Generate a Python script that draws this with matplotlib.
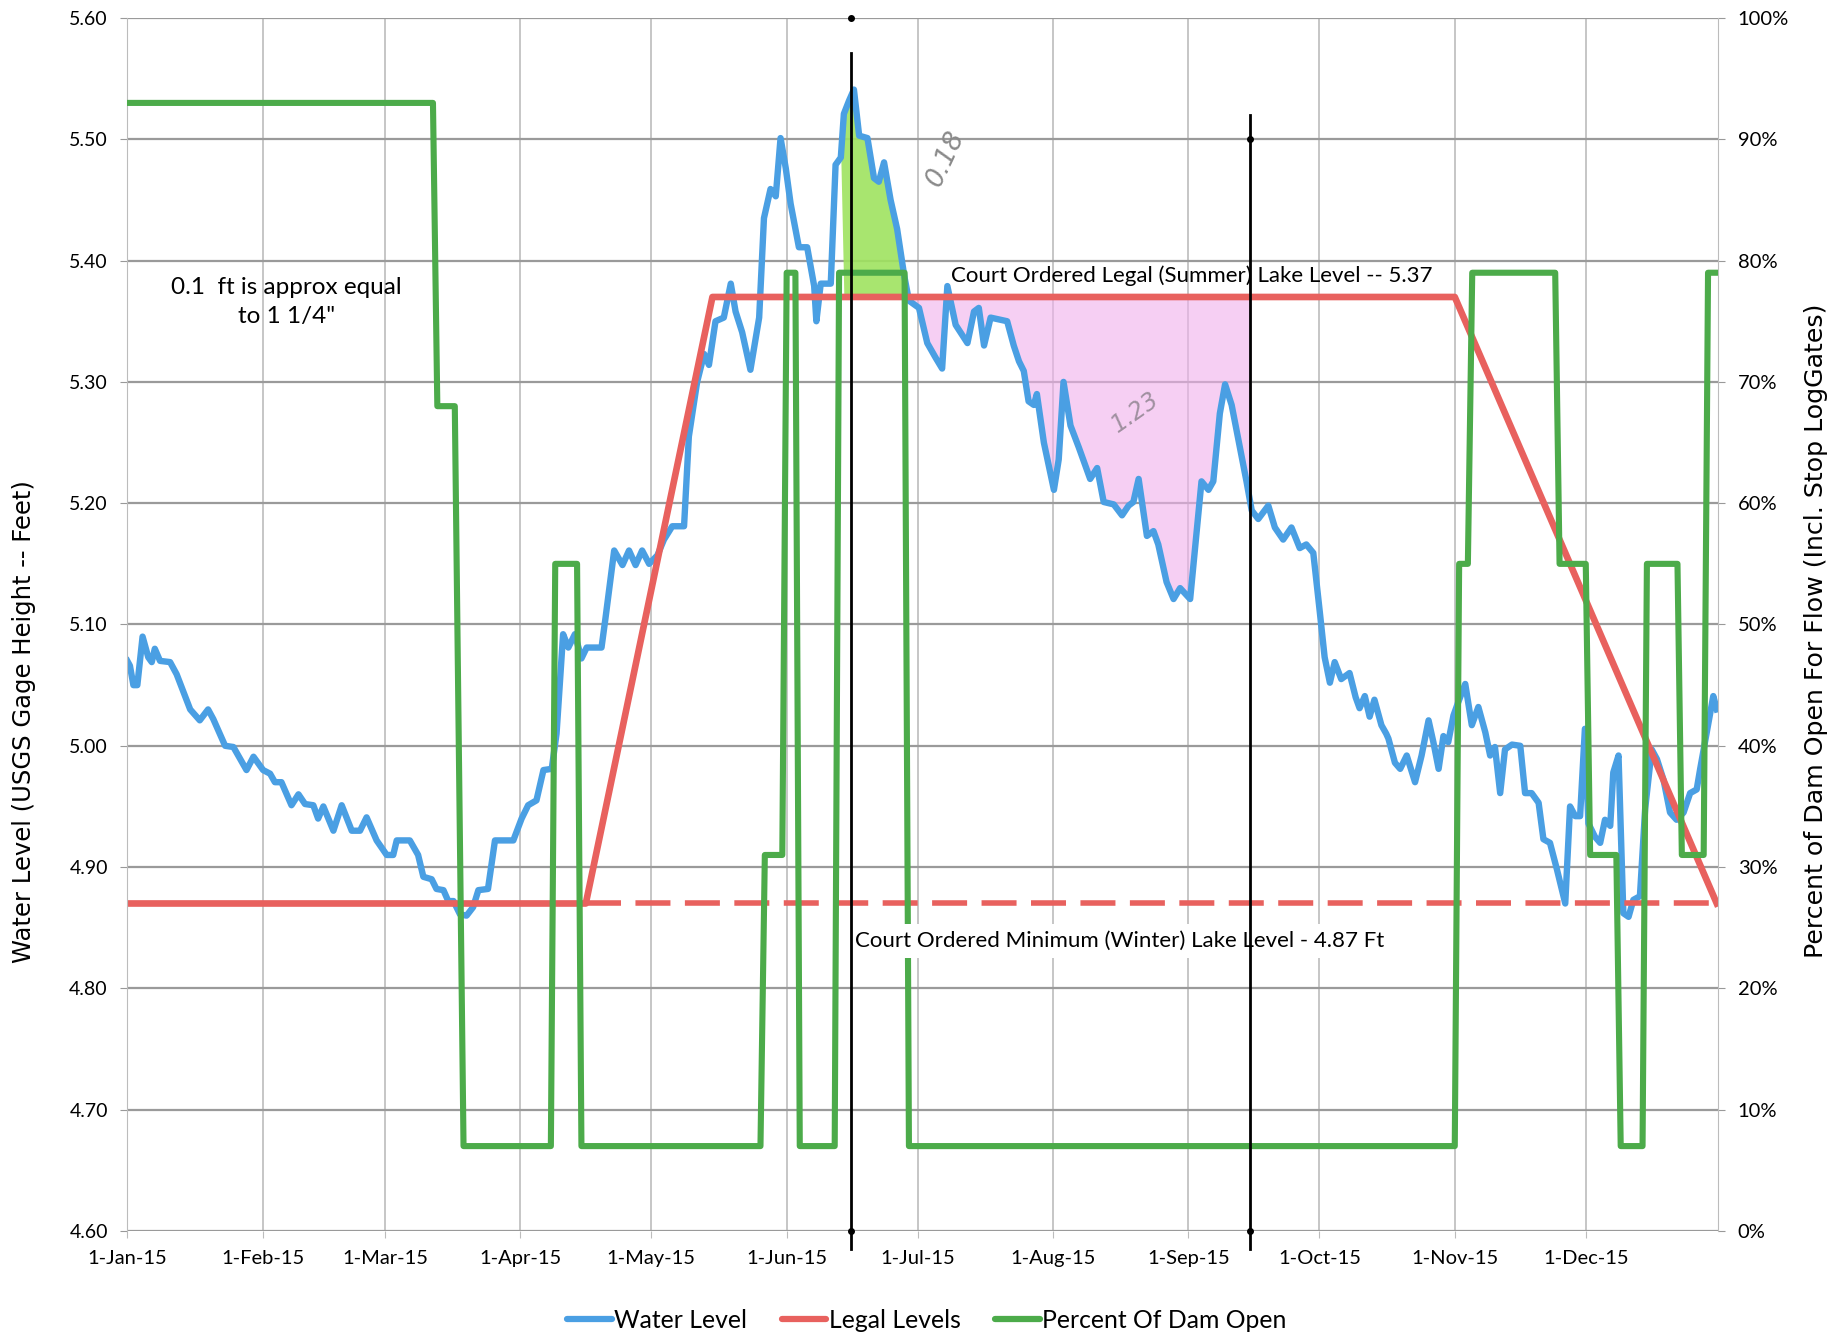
import numpy as np
import matplotlib
matplotlib.use("Agg")
import matplotlib.pyplot as plt
import matplotlib.dates as mdates
from matplotlib.ticker import MultipleLocator, FormatStrFormatter, PercentFormatter
from matplotlib.lines import Line2D
from matplotlib import font_manager as fm

# ---------------- data (days after 1-Jan-2015) ----------------
wl_days = [0, 0.6, 1.4, 2.3, 3.5, 4.8, 5.6, 6.3, 7.5, 9.8, 11.3, 14.4, 16.6, 18.5, 19.7,
           22.4, 24.3, 27.3, 28.9, 31.1, 32.7, 33.8, 35.3, 37.6, 39.2, 40.7, 42.6, 43.7,
           44.9, 47.2, 49.1, 51.4, 53.3, 54.8, 57.1, 59.4, 60.9, 61.7, 64.7, 66.6, 67.8,
           69.7, 70.8, 72.4, 73.5, 74.7, 76.2, 77.7, 79.2, 80.4, 82.6, 84.2, 88.4, 90.3,
           91.8, 93.7, 95.3, 97.2, 98.3, 99.8, 101, 102.5, 104, 105.2, 108.6, 109.5,
           111.5, 113.4, 114.9, 116.4, 117.9, 119.5, 121.4, 122.9, 124.8, 127.5, 128.6,
           130.5, 132.1, 133.2, 134.7, 136.6, 138.2, 139.3, 140.8, 142.7, 144.7, 145.8,
           147.3, 148.5, 149.6, 150.8, 151.9, 153.8, 155.7, 157.3, 157.8, 158.8, 161.1,
           162.2, 163.4, 164.1, 165.3, 166.4, 167.6, 169.5, 171, 172.1, 173.3, 174.8,
           176.3, 177.9, 179, 181.3, 183.2, 185.1, 186.6, 187.8, 189.7, 192.4, 193.9,
           195, 196.2, 197.7, 201.5, 203, 204.2, 205.3, 206.4, 207.6, 208.3, 209.9,
           212.2, 213.3, 214.4, 216, 217.9, 220.5, 222.1, 223.6, 225.9, 227.8, 229.3,
           230.4, 231.6, 233.5, 235, 236.1, 238, 239.6, 241.1, 243.4, 244.9, 246, 247.6,
           248.7, 250.2, 251.4, 252.9, 254.4, 256.3, 257.5, 259, 261.3, 262.8, 264.7,
           266.6, 268.5, 270, 271.6, 273.1, 274.2, 275.4, 276.5, 278, 279.9, 281.3,
           282.2, 283.4, 284.5, 285.6, 287.2, 288.3, 288.8, 290.3, 291.5, 293, 294.9,
           296.4, 298, 299.1, 300.3, 301.4, 302.5, 303.7, 304.8, 306.4, 307.9, 309.4,
           311, 312.1, 313.2, 314.4, 315.5, 317.1, 319, 320.1, 321.6, 323.2, 324.3,
           325.8, 327.4, 329.3, 330.4, 331.6, 332.7, 333.8, 334.6, 336.1, 337.3, 338.4,
           339.6, 340.3, 341.5, 342.6, 343.8, 344.9, 346.4, 347.6, 349.1, 350.3, 351.8,
           353.3, 354.8, 356.4, 357.9, 359.4, 360.2, 361.7, 363.2, 364]
wl_vals = [5.070, 5.066, 5.050, 5.050, 5.090, 5.073, 5.069, 5.080, 5.070, 5.069, 5.059,
           5.030, 5.021, 5.030, 5.022, 5.000, 4.999, 4.980, 4.991, 4.980, 4.977, 4.970,
           4.970, 4.951, 4.960, 4.952, 4.951, 4.940, 4.950, 4.930, 4.951, 4.930, 4.930,
           4.941, 4.922, 4.910, 4.910, 4.922, 4.922, 4.910, 4.892, 4.890, 4.882, 4.881,
           4.872, 4.872, 4.861, 4.860, 4.867, 4.881, 4.882, 4.922, 4.922, 4.940, 4.951,
           4.955, 4.980, 4.981, 5.010, 5.092, 5.081, 5.092, 5.072, 5.081, 5.081, 5.105,
           5.161, 5.149, 5.161, 5.149, 5.161, 5.150, 5.157, 5.170, 5.181, 5.181, 5.255,
           5.300, 5.323, 5.314, 5.350, 5.353, 5.381, 5.358, 5.341, 5.310, 5.353, 5.435,
           5.459, 5.453, 5.501, 5.476, 5.447, 5.411, 5.411, 5.379, 5.350, 5.381, 5.381,
           5.479, 5.485, 5.521, 5.532, 5.541, 5.503, 5.501, 5.468, 5.465, 5.481, 5.450,
           5.426, 5.388, 5.367, 5.361, 5.332, 5.320, 5.311, 5.379, 5.347, 5.332, 5.358,
           5.361, 5.330, 5.353, 5.350, 5.330, 5.317, 5.309, 5.284, 5.281, 5.290, 5.250,
           5.211, 5.236, 5.300, 5.264, 5.246, 5.220, 5.229, 5.201, 5.199, 5.190, 5.198,
           5.201, 5.220, 5.173, 5.177, 5.166, 5.135, 5.121, 5.130, 5.121, 5.177, 5.218,
           5.211, 5.218, 5.274, 5.298, 5.281, 5.253, 5.218, 5.194, 5.187, 5.198, 5.180,
           5.170, 5.180, 5.163, 5.166, 5.159, 5.110, 5.073, 5.052, 5.069, 5.055, 5.060,
           5.040, 5.031, 5.041, 5.024, 5.038, 5.017, 5.010, 5.006, 4.986, 4.981, 4.992,
           4.970, 4.992, 5.021, 5.003, 4.981, 5.008, 5.003, 5.025, 5.036, 5.051, 5.017,
           5.032, 5.011, 4.992, 4.999, 4.961, 4.997, 5.001, 5.000, 4.961, 4.961, 4.953,
           4.923, 4.920, 4.898, 4.870, 4.950, 4.942, 4.942, 5.014, 4.936, 4.925, 4.920,
           4.939, 4.934, 4.978, 4.992, 4.862, 4.859, 4.873, 4.876, 4.948, 4.997, 4.989,
           4.972, 4.945, 4.939, 4.945, 4.961, 4.964, 4.981, 5.011, 5.041, 5.030]

legal_days = [0, 105, 134, 304, 364]
legal_vals = [4.87, 4.87, 5.37, 5.37, 4.87]
winter_days = [105, 364]
winter_vals = [4.87, 4.87]

dam_days = [0, 70, 71, 75, 77, 97, 98, 103, 104, 145, 146, 150, 151, 153, 154, 162, 163,
            178, 179, 304, 305, 307, 308, 327, 328, 334, 335, 341, 342, 347, 348, 355,
            356, 361, 362, 364]
dam_pct = [93, 93, 68, 68, 7, 7, 55, 55, 7, 7, 31, 31, 79, 79, 7, 7, 79, 79, 7, 7, 55, 55,
           79, 79, 55, 55, 31, 31, 7, 7, 55, 55, 31, 31, 79, 79]

marker_days = [165.8, 257.2]
marker_tops = [5.571, 5.52]
marker_dots = [5.60, 5.50]

# ---------------- style ----------------
avail = {f.name for f in fm.fontManager.ttflist}
NARROW = "Lato" if "Lato" in avail else "Liberation Sans"

BLUE = "#4A9FE3"
RED = "#E8615E"
GREEN = "#4CAB4A"

fig = plt.figure(figsize=(18.43, 13.37), dpi=100, facecolor="white")
ax = fig.add_axes([0.06907, 0.07928, 0.86327, 0.90726])
ax2 = ax.twinx()

base = mdates.date2num(np.datetime64("2015-01-01"))
wd = np.asarray(wl_days, float)
wv = np.asarray(wl_vals, float)
X = lambda d: base + np.asarray(d, float)

# fills (hand highlights)
ax.fill_between(X(wd), wv, 5.37, where=(wd >= 164.0) & (wd <= 178.5) & (wv >= 5.37),
                interpolate=True, color="#9FE35F", alpha=0.9, lw=0, zorder=1.5)
ax.fill_between(X(wd), wv, 5.37, where=(wd >= 178) & (wd <= 257.5) & (wv <= 5.37),
                interpolate=True, color="#F0B0EC", alpha=0.6, lw=0, zorder=1.4)

ax.plot(X(wd), wv, color=BLUE, lw=4.6, zorder=2, solid_joinstyle="round")
ax.plot(X(legal_days), legal_vals, color=RED, lw=4.8, zorder=2.5)
ax.plot(X(winter_days), winter_vals, color=RED, lw=4.0, dashes=(6.3, 2.6), zorder=2.5)

ax2.plot(X(dam_days), dam_pct, color=GREEN, lw=4.4, zorder=3)

# annotations
tr = ax.transData
ax2.text(X(36.4), 5.366, "0.1  ft is approx equal\nto 1 1/4\"", transform=tr,
         ha="center", va="center", fontsize=17.5, family=NARROW, linespacing=1.45, zorder=6)
ax2.text(X(188.7), 5.382, "Court Ordered Legal (Summer) Lake Level -- 5.37", transform=tr,
         ha="left", va="baseline", fontsize=16, family=NARROW, zorder=6)
ax2.text(X(166.6), 4.834, "Court Ordered Minimum (Winter) Lake Level - 4.87 Ft", transform=tr,
         ha="left", va="baseline", fontsize=16, family=NARROW, zorder=8,
         bbox=dict(facecolor="white", edgecolor="none", pad=5))
ax2.text(X(187.5), 5.484, "0.18", transform=tr, ha="center", va="center", rotation=65,
         fontsize=19, color="#8a8a8a", style="italic", fontweight="light", zorder=6)
ax2.text(X(230.8), 5.275, "1.23", transform=tr, ha="center", va="center", rotation=35,
         fontsize=17, color="#a090a0", style="italic", fontweight="light", zorder=6)

for d, top, dot in zip(marker_days, marker_tops, marker_dots):
    ax2.plot(X([d, d]), [top, 4.585], transform=tr, color="black", lw=2.0,
             clip_on=False, zorder=10)
    ax2.plot(X([d, d]), [dot, 4.60], "o", transform=tr, color="black", ms=4,
             clip_on=False, zorder=10)

# axes / grid
ax.set_xlim(base, base + 364.35)
ax.set_ylim(4.60, 5.60)
ax2.set_ylim(0, 100)
ax.yaxis.set_major_locator(MultipleLocator(0.1))
ax.yaxis.set_major_formatter(FormatStrFormatter("%.2f"))
ax2.yaxis.set_major_locator(MultipleLocator(10))
ax2.yaxis.set_major_formatter(PercentFormatter(decimals=0))
ax.xaxis.set_major_locator(mdates.MonthLocator())
ax.xaxis.set_major_formatter(mdates.DateFormatter("%-d-%b-%y"))

ax.set_axisbelow(True)
ax.grid(axis="y", color="#9a9a9a", lw=1.6)
ax.grid(axis="x", color="#bcbcbc", lw=1.2)
for s in ["top", "bottom", "right"]:
    ax.spines[s].set_visible(False)
ax.spines["left"].set_color("#bcbcbc")
for s in ["top", "bottom", "left"]:
    ax2.spines[s].set_visible(False)
ax2.spines["right"].set_color("#bcbcbc")

ax.tick_params(axis="y", length=5, color="#999999", pad=9, labelsize=14,
               labelfontfamily=NARROW)
ax.tick_params(axis="x", length=5, color="#bcbcbc", pad=9, labelsize=14.5,
               labelfontfamily=NARROW)
ax2.tick_params(axis="y", length=5, color="#999999", pad=9, labelsize=14.5,
                labelfontfamily=NARROW)

fig.text(24 / 1843, 1 - 722 / 1337, "Water Level (USGS Gage Height -- Feet)", rotation=90,
         ha="center", va="center", fontsize=17.5, family="DejaVu Sans")
fig.text(1816 / 1843, 1 - 631 / 1337, "Percent of Dam Open For Flow (Incl. Stop LogGates)",
         rotation=90, ha="center", va="center", fontsize=18.2, family="DejaVu Sans")

handles = [Line2D([], [], color=c, lw=4.5, solid_capstyle="round") for c in (BLUE, RED, GREEN)]
fig.legend(handles, ["Water Level", "Legal Levels", "Percent Of Dam Open"], loc="center",
           bbox_to_anchor=(927 / 1843, 1 - 1320 / 1337), ncol=3, frameon=False,
           prop={"family": NARROW, "size": 17.8}, handlelength=1.8, handletextpad=0.1,
           columnspacing=1.4)

fig.savefig("out.png", dpi=100, facecolor="white")
